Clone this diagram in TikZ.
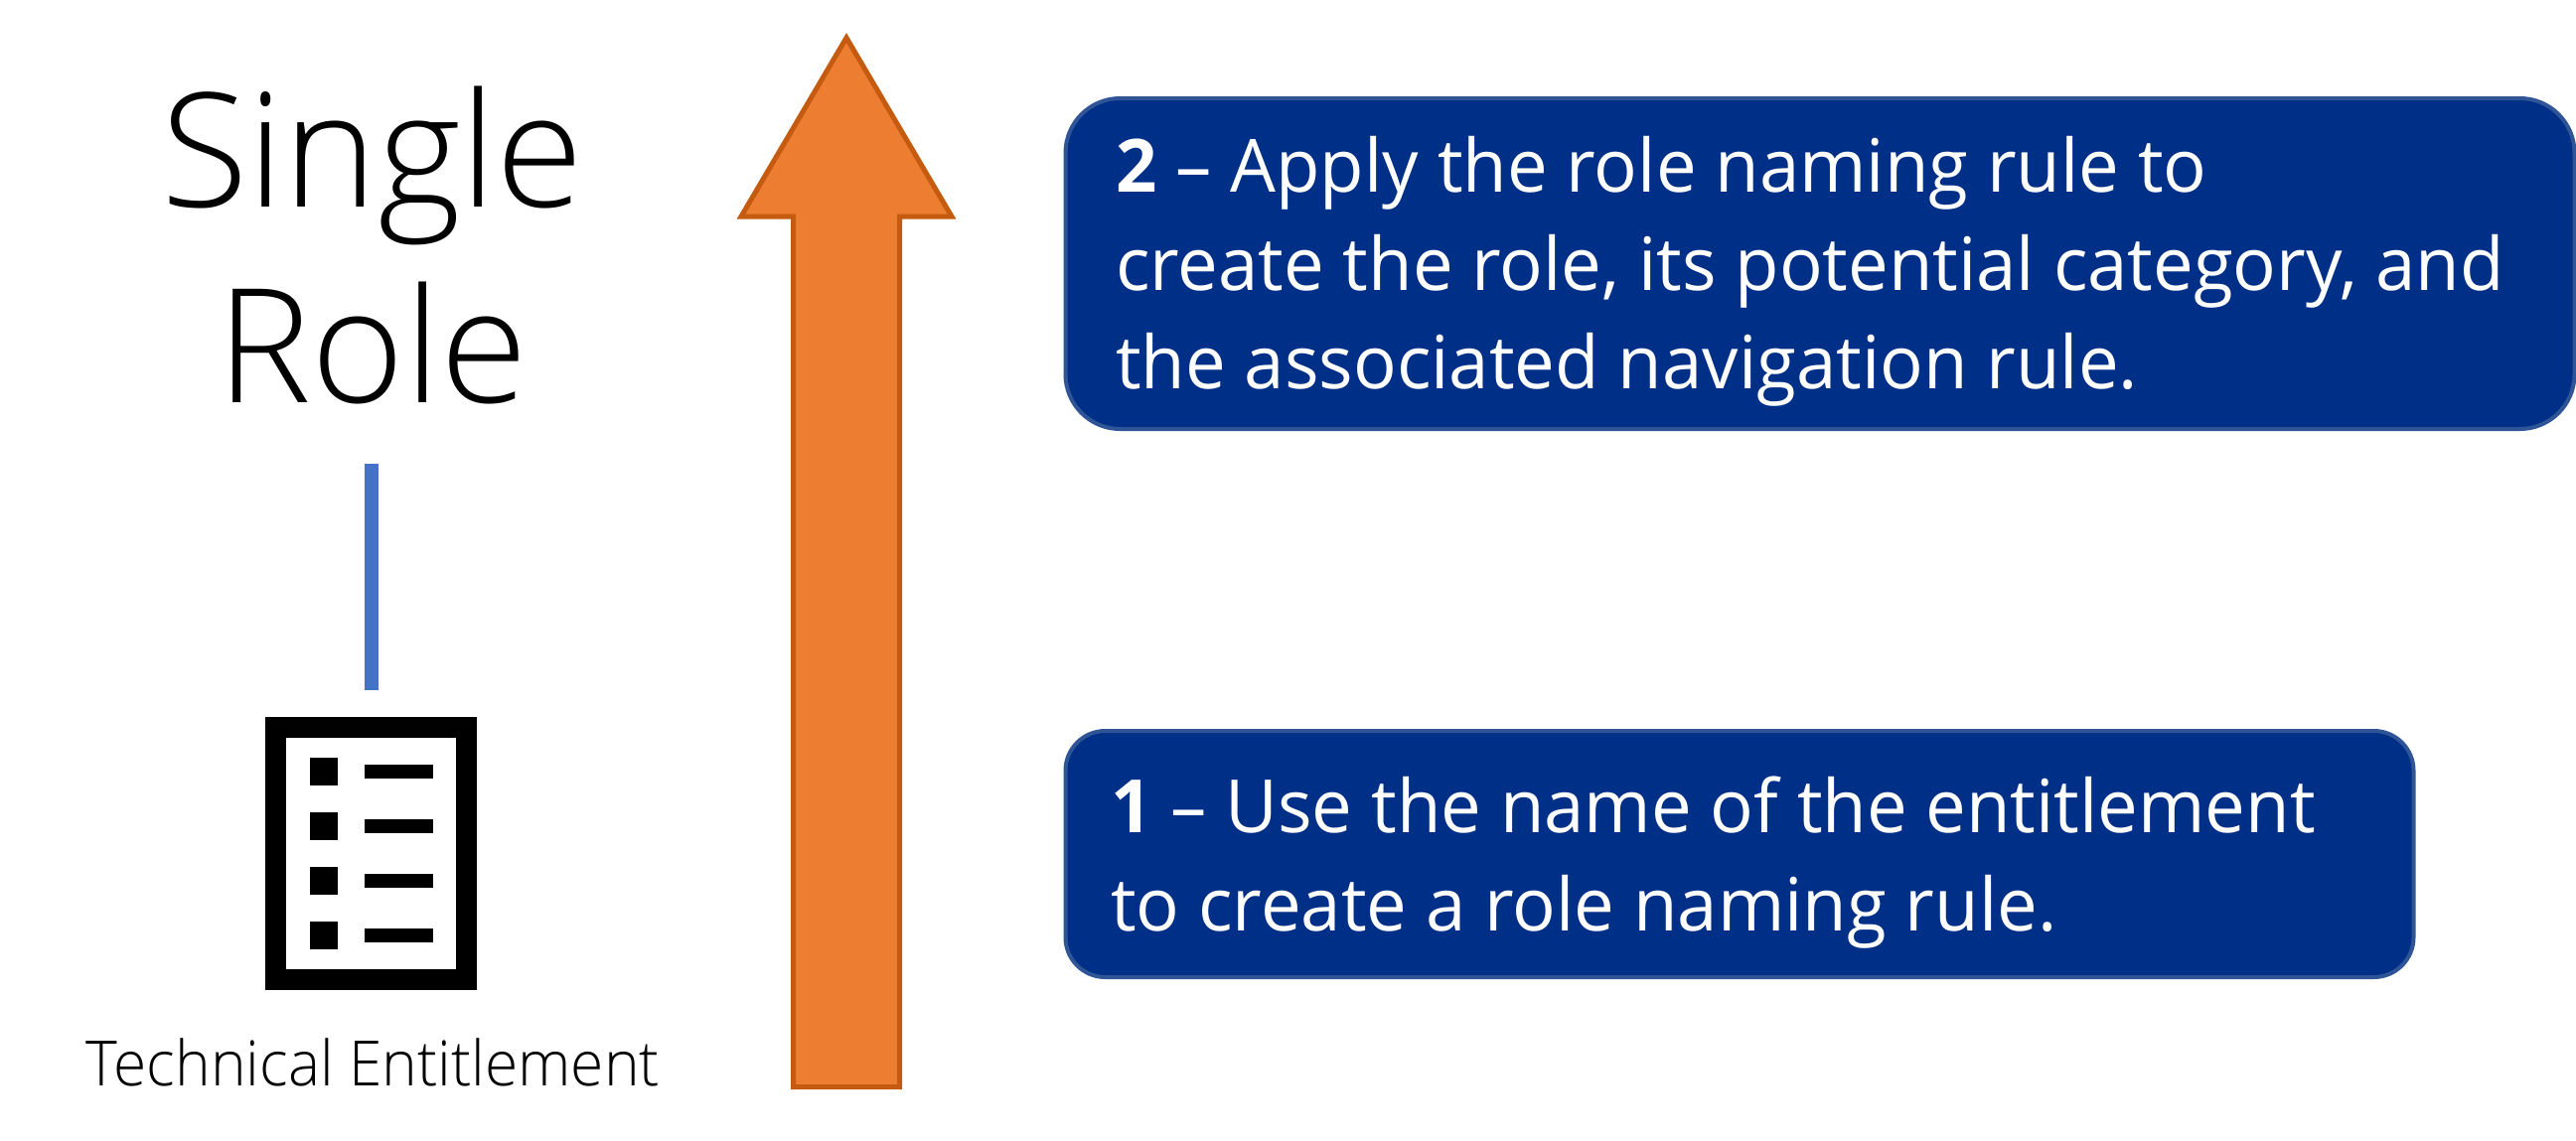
\documentclass[tikz,border=0pt]{standalone}
\usepackage{fontspec}
\setmainfont{Open Sans}[FakeStretch=0.98]
\newfontfamily\lightfont{Open Sans Light}[FakeStretch=1.0]
\newfontfamily\lightfontb{Open Sans Light}[FakeStretch=0.96]
\definecolor{boxfill}{HTML}{002F87}
\definecolor{boxline}{HTML}{2F5597}
\definecolor{arrowfill}{HTML}{ED7D31}
\definecolor{arrowline}{HTML}{C55A11}
\definecolor{barblue}{HTML}{4472C4}
\tikzset{
  notebox/.style={draw=boxline,fill=boxfill,line width=4pt,rounded corners=#1,inner sep=0pt},
  notetext/.style={text=white,inner sep=0pt,anchor=north west,align=left,font=\fontsize{74}{99}\selectfont},
  titletext/.style={inner sep=0pt,align=center,font=\lightfont\fontsize{160}{197}\selectfont},
  inksq/.style={fill=black,draw=none,inner sep=0pt,minimum width=28pt,minimum height=27.5pt},
  inkbar/.style={fill=black,draw=none,inner sep=0pt,minimum width=69pt,minimum height=14pt}
}
\begin{document}
\begin{tikzpicture}[x=1pt,y=-1pt]
\useasboundingbox (0,0) rectangle (2593,1148);
% title
\node[titletext] (title) at (375,247) {Single\\Role};
% link
\coordinate (barTop) at (374,467);
\coordinate (barBot) at (374,695);
\draw[barblue,line width=14pt] (barTop) -- (barBot);
% icon
\node[draw=black,line width=20.5pt,fill=white,inner sep=0pt,minimum width=192pt,minimum height=254pt] (icon) at (373.5,859.7) {};
\foreach \n/\yy in {a/777,b/832,c/886.8,d/941.8}{
  \node[inksq] (sq\n) at (326,\yy) {};
  \node[inkbar] (ln\n) at (401.5,\yy) {};
}
\node[inner sep=0pt,anchor=base,font=\lightfontb\fontsize{63}{70}\selectfont] (tech) at (375.5,1093.5) {Technical Entitlement};
% arrow
\coordinate (aBL) at (798.5,1094.5);
\coordinate (aBR) at (905.5,1094.5);
\coordinate (aTip) at (852,38);
\draw[fill=arrowfill,draw=arrowline,line width=5pt,miter limit=10]
  (aBL) -- (798.5,218) -- (746,218) -- (aTip) -- (958,218) -- (905.5,218) -- (aBR) -- cycle;
% boxes
\node[notebox=55pt,minimum width=1519pt,minimum height=333pt] (boxtwo) at (1832,265.5) {};
\node[notebox=40pt,minimum width=1357pt,minimum height=248pt] (boxone) at (1751,860) {};
\node[notetext] (texttwo) at (1123,137) {\textbf{2} – Apply the role naming rule to\\create the role, its potential category, and\\the associated navigation rule.};
\node[notetext] (textone) at (1118,782) {\textbf{1} – Use the name of the entitlement\\to create a role naming rule.};
\end{tikzpicture}
\end{document}
